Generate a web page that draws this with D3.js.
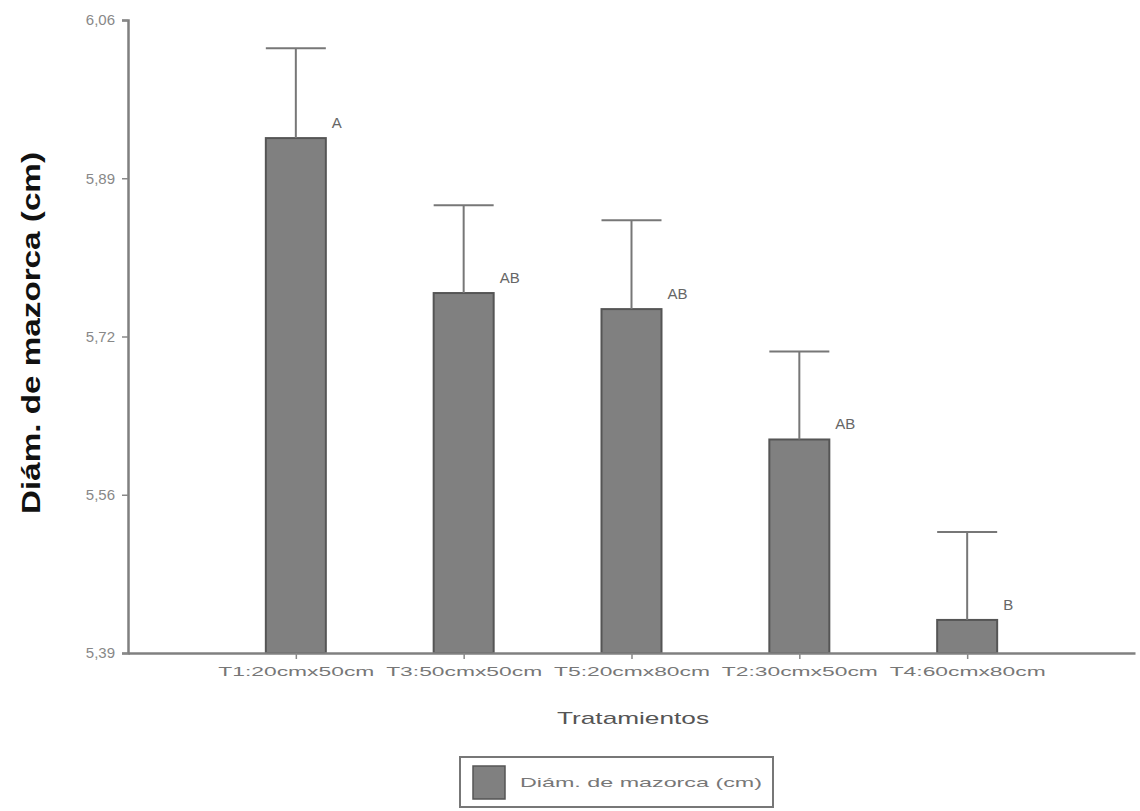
<!DOCTYPE html>
<html><head><meta charset="utf-8">
<script src="https://cdn.jsdelivr.net/npm/d3@7"></script>
<style>body{margin:0;background:#fff;}svg{display:block;font-family:"Liberation Sans",Arial,sans-serif;}</style>
</head><body>
<script>
const categories = ["T1:20cmx50cm","T3:50cmx50cm","T5:20cmx80cm","T2:30cmx50cm","T4:60cmx80cm"];
const means = [5.935, 5.771, 5.754, 5.616, 5.425];
const errorTops = [6.030, 5.864, 5.848, 5.709, 5.518];
const letters = ["A","AB","AB","AB","B"];
const yTickValues = [5.39, 5.5575, 5.725, 5.8925, 6.06];
const yTickLabels = ["5,39","5,56","5,72","5,89","6,06"];
const yTitle = "Diám. de mazorca (cm)";
const xTitle = "Tratamientos";
const legendLabel = "Diám. de mazorca (cm)";

const W = 1140, H = 811;
const svg = d3.select("body").append("svg").attr("width", W).attr("height", H);

const x = d3.scalePoint().domain(categories).range([128, 1135]).padding(1);
const y = d3.scaleLinear().domain([5.39, 6.06]).range([653, 20]);
const barW = 60;

// bars
svg.selectAll("rect.bar").data(categories).join("rect")
  .attr("class","bar")
  .attr("x", d => x(d) - barW/2)
  .attr("y", (d,i) => y(means[i]))
  .attr("width", barW)
  .attr("height", (d,i) => y(5.39) - y(means[i]))
  .attr("fill", "#808080").attr("stroke", "#555").attr("stroke-width", 2);

// error bars
const eg = svg.selectAll("g.err").data(categories).join("g").attr("class","err");
eg.append("line")
  .attr("x1", d => x(d)).attr("x2", d => x(d))
  .attr("y1", (d,i) => y(means[i])).attr("y2", (d,i) => y(errorTops[i]))
  .attr("stroke", "#777").attr("stroke-width", 2);
eg.append("line")
  .attr("x1", d => x(d) - barW/2).attr("x2", d => x(d) + barW/2)
  .attr("y1", (d,i) => y(errorTops[i])).attr("y2", (d,i) => y(errorTops[i]))
  .attr("stroke", "#777").attr("stroke-width", 2);

// letters
svg.selectAll("text.letter").data(categories).join("text")
  .attr("class","letter")
  .attr("x", d => x(d) + barW/2 + 6)
  .attr("y", (d,i) => y(means[i]) - 10)
  .attr("font-size", 15).attr("fill", "#666")
  .text((d,i) => letters[i]);

// y axis
const yAxis = d3.axisLeft(y).tickValues(yTickValues).tickFormat((d,i) => yTickLabels[i]).tickSize(6).tickPadding(7);
const gy = svg.append("g").attr("transform","translate(128,0)").call(yAxis);
gy.select(".domain").attr("stroke","#808080").attr("stroke-width",2.5);
gy.selectAll(".tick line").attr("stroke","#888").attr("stroke-width",1.5);
gy.selectAll(".tick text").attr("font-size",15).attr("fill","#888").attr("font-family","Liberation Sans, Arial, sans-serif");

// x axis
const xAxis = d3.axisBottom(x).tickSize(6).tickPadding(8).tickSizeOuter(0);
const gx = svg.append("g").attr("transform","translate(0,653)").call(xAxis);
gx.select(".domain").attr("stroke","#808080").attr("stroke-width",2.5);
gx.selectAll(".tick line").attr("stroke","#888").attr("stroke-width",1.5);
gx.selectAll(".tick text").attr("font-size",13).attr("fill","#777")
  .attr("font-family","Liberation Sans, Arial, sans-serif")
  .attr("textLength",156).attr("lengthAdjust","spacingAndGlyphs");

// titles
svg.append("text").attr("x", 633).attr("y", 724).attr("text-anchor","middle")
  .attr("font-size",17).attr("fill","#555")
  .attr("textLength",152).attr("lengthAdjust","spacingAndGlyphs").text(xTitle);
svg.append("text").attr("transform","translate(40,333) rotate(-90)").attr("text-anchor","middle")
  .attr("font-size",25).attr("font-weight","bold").attr("fill","#111")
  .attr("textLength",362).attr("lengthAdjust","spacingAndGlyphs").text(yTitle);

// legend
const lg = svg.append("g");
lg.append("rect").attr("x",460).attr("y",757).attr("width",313).attr("height",50)
  .attr("fill","#fff").attr("stroke","#777").attr("stroke-width",2);
lg.append("rect").attr("x",473).attr("y",766).attr("width",32).attr("height",33)
  .attr("fill","#808080").attr("stroke","#555").attr("stroke-width",1.5);
lg.append("text").attr("x",520).attr("y",787).attr("font-size",13).attr("fill","#777")
  .attr("textLength",242).attr("lengthAdjust","spacingAndGlyphs").text(legendLabel);
</script>
</body></html>
